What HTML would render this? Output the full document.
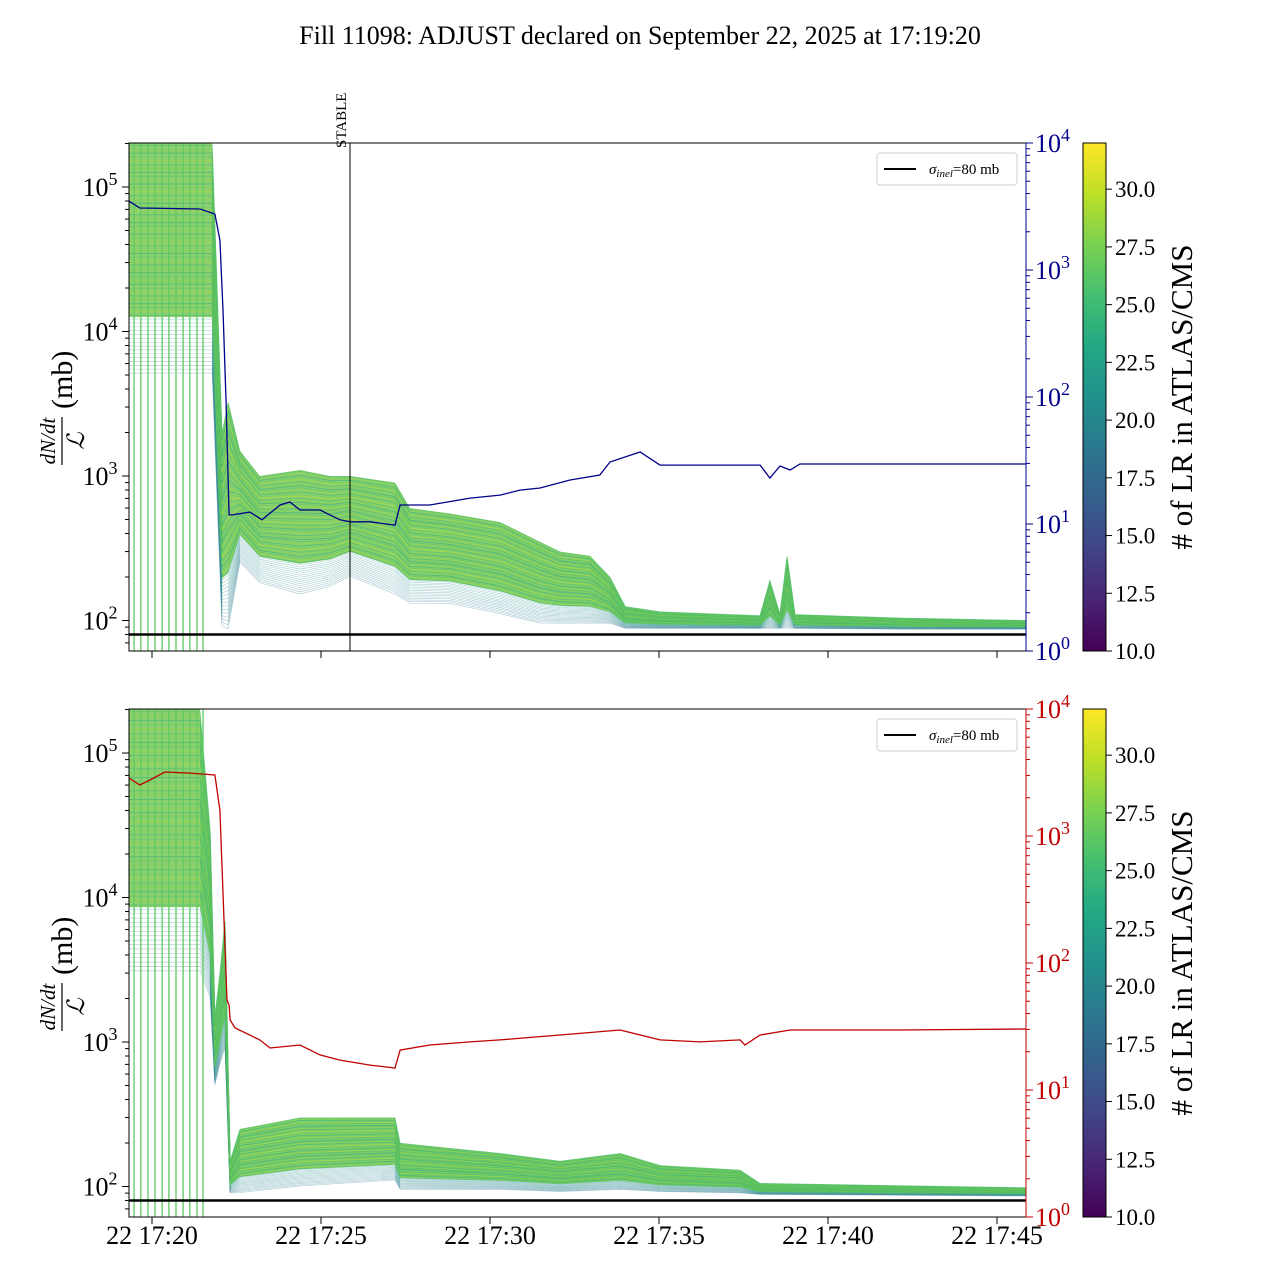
<!DOCTYPE html>
<html><head><meta charset="utf-8"><style>
html,body{margin:0;padding:0;background:#fff;}
svg{display:block;font-family:"Liberation Serif","DejaVu Serif",serif;}
</style></head><body>
<svg id="chart" width="1280" height="1280" viewBox="0 0 1280 1280">
<defs>
<linearGradient id="vir" x1="0" y1="1" x2="0" y2="0">
<stop offset="0" stop-color="#440154"/><stop offset="0.1" stop-color="#482475"/><stop offset="0.2" stop-color="#414487"/><stop offset="0.3" stop-color="#355f8d"/><stop offset="0.4" stop-color="#2a788e"/><stop offset="0.5" stop-color="#21918c"/><stop offset="0.6" stop-color="#22a884"/><stop offset="0.7" stop-color="#44bf70"/><stop offset="0.8" stop-color="#7ad151"/><stop offset="0.9" stop-color="#bddf26"/><stop offset="1" stop-color="#fde725"/>
</linearGradient>
<clipPath id="c1"><rect x="129" y="143" width="897" height="508"/></clipPath>
<clipPath id="c2"><rect x="129" y="709" width="897" height="508"/></clipPath>
</defs>
<text x="640" y="44" text-anchor="middle" font-size="26">Fill 11098: ADJUST declared on September 22, 2025 at 17:19:20</text>
<g id="root"></g>
</svg>
<script>
// ---- data (time in minutes after 17:20) ----
const bandTimes = [-0.68,1.42,1.78,2.07,2.25,2.60,3.19,4.38,5.27,5.86,7.19,7.63,8.81,10.30,11.48,12.07,12.96,13.55,14.00,15.03,17.99,18.28,18.58,18.79,19.02,22.13,25.86];
const topUpper = [200000,200000,200000,2000,3300,1500,1000,1100,1000,1000,900,600,550,480,350,300,280,200,125,115,108,190,110,280,110,104,100];
const topLower = [5000,5000,5000,90,85,250,180,150,170,200,150,130,130,110,95,95,95,95,88,88,88,88,88,88,88,87,87];
const botTimes = [-0.68,1.42,1.72,1.86,2.01,2.16,2.31,2.60,4.38,7.19,7.34,10.30,12.07,13.85,15.03,17.40,17.99,25.86];
const botUpper = [200000,200000,30000,1500,3000,7000,150,250,300,300,200,170,150,170,140,130,105,98];
const botLower = [3000,3000,2000,500,700,900,90,90,100,110,95,95,92,95,92,90,88,86];
const blueTimes = [-0.68,-0.36,1.42,1.86,2.01,2.10,2.19,2.28,2.37,2.90,3.25,3.79,4.08,4.38,4.97,5.56,5.86,6.45,7.19,7.34,8.22,9.41,10.30,10.89,11.48,12.37,13.25,13.55,14.44,15.03,16.21,17.99,18.28,18.58,18.88,19.17,22.13,25.86];
const blueValues = [3490,3080,3020,2760,1720,484,95,11.8,11.8,12.4,10.8,14.1,14.9,12.9,12.9,10.8,10.4,10.4,9.8,14.1,14.1,16.0,16.9,18.5,19.2,22.2,24.3,30.8,36.9,29.1,29.1,29.1,23.0,28.6,26.6,29.7,29.7,29.7];
const redTimes = [-0.68,-0.36,-0.06,0.38,1.12,1.86,2.01,2.13,2.22,2.28,2.31,2.46,3.19,3.49,4.38,4.97,5.56,6.45,7.19,7.34,8.22,9.41,10.30,12.07,13.85,15.03,16.21,17.40,17.54,17.99,18.88,22.13,25.86];
const redValues = [2860,2520,2760,3190,3130,3020,1600,218,51,46.7,35.6,30.8,24.8,21.4,22.6,18.9,17.2,15.7,14.9,20.6,22.6,23.9,24.8,27.1,29.7,24.8,23.9,24.8,22.6,27.1,29.7,29.7,30.2];
const spikeTimes = [-0.53,-0.33,-0.12,0.09,0.30,0.50,0.71,0.92,1.12,1.33,1.51];
const xTickLabels = ["22 17:20","22 17:25","22 17:30","22 17:35","22 17:40","22 17:45"];
const xTickMinutes = [0,5,10,15,20,25];
const cbTicks = [10.0,12.5,15.0,17.5,20.0,22.5,25.0,27.5,30.0];
const sigmaInel = 80;

const NS="http://www.w3.org/2000/svg";
const root=document.getElementById('root');
function mk(tag,attrs,parent){const e=document.createElementNS(NS,tag);for(const k in attrs)e.setAttribute(k,attrs[k]);(parent||root).appendChild(e);return e;}
const xPx=t=>152+t*33.8;
const panels=[{top:143,clip:'c1',upper:topUpper,lower:topLower,times:bandTimes,lineT:blueTimes,lineV:blueValues,col:'#00008b',name:'top'},
              {top:709,clip:'c2',upper:botUpper,lower:botLower,times:botTimes,lineT:redTimes,lineV:redValues,col:'#c00000',name:'bottom'}];
const vir=['#440154','#482475','#414487','#355f8d','#2a788e','#21918c','#22a884','#44bf70','#7ad151','#bddf26','#fde725'];
function virC(f){const i=Math.min(9,Math.floor(f*10));const r=f*10-i;const a=vir[i],b=vir[i+1];const p=s=>[1,3,5].map(j=>parseInt(s.substr(j,2),16));const A=p(a),B=p(b);return 'rgb('+A.map((v,k)=>Math.round(v+(B[k]-v)*r)).join(',')+')';}

panels.forEach((P,pi)=>{
  const T=P.top,H=508;
  const yL=v=>T+44+(5-Math.log10(v))*144.5;
  const yR=v=>T+H-Math.log10(v)*127;
  const g=mk('g',{'clip-path':'url(#'+P.clip+')'});
  
  
  const at=(k,ff)=>{const lu=Math.log10(P.upper[k]),ll=Math.log10(P.lower[k]);return Math.pow(10,ll+(lu-ll)*ff);};
  let fd='';
  P.times.forEach((t,k)=>{fd+=(k?'L':'M')+xPx(t).toFixed(1)+' '+yL(at(k,1)).toFixed(1);});
  for(let k=P.times.length-1;k>=0;k--){fd+='L'+xPx(P.times[k]).toFixed(1)+' '+yL(at(k,0.25)).toFixed(1);}
  const core=mk('path',{d:fd+'Z',fill:'#78c955','fill-opacity':0.85},g);
  
  
  const N=60;
  for(let i=0;i<N;i++){
    const f=(i+0.5)/N;
    let d='';
    P.times.forEach((t,k)=>{d+=(k?'L':'M')+xPx(t).toFixed(1)+' '+yL(at(k,f)).toFixed(1);});
    const cf=f<0.25?0.4+0.4*f:0.55+0.35*(((i*37)%N)/N);
    const p=mk('path',{d:d,fill:'none',stroke:virC(cf),'stroke-width':(f<0.25?0.7:1.0),'stroke-opacity':(f<0.25?0.35:0.5)},g);
    
    
  }
  spikeTimes.forEach(t=>{const l=mk('line',{x1:xPx(t),x2:xPx(t),y1:T,y2:T+H,stroke:'#5ec962','stroke-width':1.3},g);
    
    });
  const hy=yL(sigmaInel);
  const hl=mk('line',{x1:129,x2:1026,y1:hy,y2:hy,stroke:'#000','stroke-width':2.5},g);
  
  
  let d='';P.lineT.forEach((t,k)=>{d+=(k?'L':'M')+xPx(t).toFixed(1)+' '+yR(P.lineV[k]).toFixed(1);});
  const ln=mk('path',{d:d,fill:'none',stroke:P.col,'stroke-width':1.3},g);
  
  
  if(pi===0){
    const sx=350;
    const sl=mk('line',{x1:sx,x2:sx,y1:T,y2:T+H,stroke:'#000','stroke-width':1});
    
    
    const st=mk('text',{x:0,y:0,transform:'translate('+(sx-4)+','+(T+5)+') rotate(-90)','font-size':15});
    st.textContent='STABLE';
    
    
  }
  const fr=mk('rect',{x:129,y:T,width:897,height:H,fill:'none',stroke:'#000','stroke-width':1});
  
  
  for(let e=1;e<=5;e++){for(let m=1;m<10;m++){const v=m*Math.pow(10,e);const y=yL(v);if(y<T||y>T+H)continue;
    mk('line',{x1:129,x2:129-(m===1?7:4),y1:y,y2:y,stroke:'#000','stroke-width':1});
    if(m===1&&e>=2){const tx=mk('text',{x:100,y:y+9,'font-size':26,'text-anchor':'middle'});tx.innerHTML='10<tspan dy="-11" font-size="18">'+e+'</tspan>';
      
      }}}
  for(let e=0;e<=4;e++){for(let m=1;m<10;m++){const v=m*Math.pow(10,e);if(v>1e4)continue;const y=yR(v);
    mk('line',{x1:1026,x2:1026+(m===1?7:4),y1:y,y2:y,stroke:P.col,'stroke-width':1});
    if(m===1){const tx=mk('text',{x:1035,y:y+9,'font-size':26,fill:P.col});tx.innerHTML='10<tspan dy="-11" font-size="18">'+e+'</tspan>';
      
      }}}
  mk('line',{x1:1026,x2:1026,y1:T,y2:T+H,stroke:P.col,'stroke-width':1});
  xTickMinutes.forEach((t,k)=>{const x=xPx(t);mk('line',{x1:x,x2:x,y1:T+H,y2:T+H+7,stroke:'#000','stroke-width':1});
    if(pi===1){const tx=mk('text',{x:x,y:T+H+27,'font-size':26,'text-anchor':'middle'});tx.textContent=xTickLabels[k];
      
      }});
  const yl=mk('g',{transform:'translate(62,'+(T+262)+') rotate(-90)'});
  
  
  const n=mk('text',{x:-36,y:-7,'font-size':21,'font-style':'italic','text-anchor':'middle'},yl);n.textContent='dN/dt';
  mk('line',{x1:-60,x2:-12,y1:0,y2:0,stroke:'#000','stroke-width':1.2},yl);
  const dd=mk('text',{x:-36,y:22,'font-size':24,'font-style':'italic','text-anchor':'middle'},yl);dd.textContent='\u2112';
  const mb=mk('text',{x:-4,y:10,'font-size':30},yl);mb.textContent='(mb)';
  const lg=mk('g',{});
  
  
  mk('rect',{x:877,y:T+10,width:140,height:32,rx:3,fill:'#fff',stroke:'#ccc'},lg);
  mk('line',{x1:884,x2:916,y1:T+26,y2:T+26,stroke:'#000','stroke-width':2},lg);
  const lt=mk('text',{x:929,y:T+31,'font-size':15},lg);lt.innerHTML='<tspan font-style="italic">σ</tspan><tspan font-style="italic" font-size="11" dy="3">inel</tspan><tspan dy="-3">=80 mb</tspan>';
  const cb=mk('g',{});
  
  
  mk('rect',{x:1083,y:T,width:23,height:H,fill:'url(#vir)',stroke:'#000','stroke-width':1},cb);
  const cy=v=>T+H-(v-10)/22*H;
  cbTicks.forEach(v=>{const y=cy(v);mk('line',{x1:1106,x2:1112,y1:y,y2:y,stroke:'#000'},cb);
    const tx=mk('text',{x:1115,y:y+8,'font-size':23},cb);tx.textContent=v.toFixed(1);
    
    });
  const ct=mk('text',{x:0,y:0,transform:'translate(1192,'+(T+254)+') rotate(-90)','font-size':31,'text-anchor':'middle'},cb);
  ct.textContent='# of LR in ATLAS/CMS';
});
</script>
</body></html>
